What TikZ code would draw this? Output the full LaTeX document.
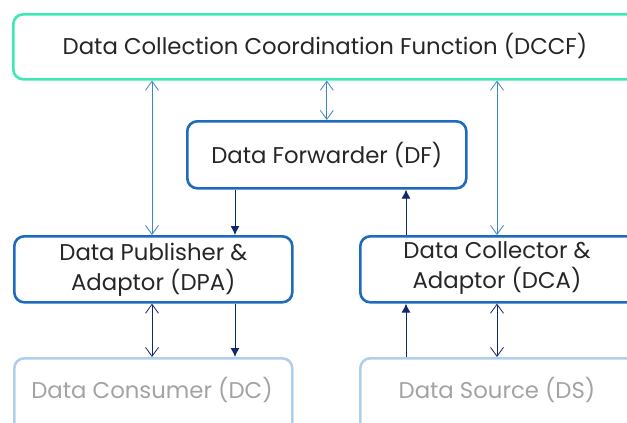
\documentclass[tikz,border=0pt]{standalone}
\usepackage{fontspec}
\setmainfont{Poppins}
\usetikzlibrary{arrows.meta}
\definecolor{mint}{HTML}{3CE8B4}
\definecolor{boxblue}{HTML}{1E6BBE}
\definecolor{lightbox}{HTML}{AFCFEC}
\definecolor{graytext}{HTML}{A3A3A3}
\definecolor{lightarrow}{HTML}{3F86C9}
\definecolor{navy}{HTML}{13286B}
\newcommand\lblfont{\fontsize{22.8}{30}\selectfont}
\tikzset{
  fbox/.style={draw=boxblue, line width=2.6pt, rounded corners=10pt, align=center, text=black!85, font=\lblfont, inner sep=0pt},
  dccfbox/.style={fbox, draw=mint},
  faintbox/.style={fbox, draw=lightbox, text=graytext},
  lbl/.style={font=\lblfont, text=black!85, align=center, inner sep=0pt},
  faintlbl/.style={lbl, text=graytext},
  openarr/.style={draw=lightarrow, line width=0.8pt, {Straight Barb[length=9pt,width=13pt,line width=0.8pt]}-{Straight Barb[length=9pt,width=13pt,line width=0.8pt]}},
  opennavy/.style={openarr, draw=navy},
  fillarr/.style={draw=navy, line width=1pt, -{Latex[length=9pt,width=9pt]}},
}
\begin{document}
\begin{tikzpicture}[x=1pt,y=-1pt]
\useasboundingbox (0,0) rectangle (627,423);
\clip (0,0) rectangle (627,423);
\node[dccfbox, minimum width=640pt, minimum height=65pt, anchor=north west] (dccf) at (12,13) {};
\node[lbl] (dccft) at (325,45.5) {Data Collection Coordination Function (DCCF)};
\node[fbox, minimum width=279pt, minimum height=67pt, anchor=north west] (df) at (186,120) {Data Forwarder (DF)};
\node[fbox, minimum width=278pt, minimum height=66pt, anchor=north west] (dpa) at (13,235) {Data Publisher \&\\Adaptor (DPA)};
\node[fbox, minimum width=300pt, minimum height=66pt, anchor=north west] (dca) at (359,235) {};
\node[lbl] (dcat) at (497,268) {Data Collector \&\\Adaptor (DCA)};
\node[faintbox, minimum width=278pt, minimum height=80pt, anchor=north west] (dc) at (13,357) {};
\node[faintlbl] (dct) at (152,390) {Data Consumer (DC)};
\node[faintbox, minimum width=300pt, minimum height=80pt, anchor=north west] (ds) at (359,357) {};
\node[faintlbl] (dst) at (497,390) {Data Source (DS)};
% connectors
\draw[openarr] (dccf.south -| 152,0) -- (dpa.north -| 152,0);
\draw[openarr] (dccf.south -| df.north) -- (df.north);
\draw[openarr] (dccf.south -| 497,0) -- (dca.north -| 497,0);
\draw[fillarr] (df.south -| 235,0) -- (dpa.north -| 235,0);
\draw[fillarr] (dca.north -| 406,0) -- (df.south -| 406,0);
\draw[opennavy] (dpa.south -| 152,0) -- (dc.north -| 152,0);
\draw[fillarr] (dpa.south -| 235,0) -- (dc.north -| 235,0);
\draw[fillarr] (ds.north -| 406,0) -- (dca.south -| 406,0);
\draw[opennavy] (dca.south -| 497,0) -- (ds.north -| 497,0);
\end{tikzpicture}
\end{document}
